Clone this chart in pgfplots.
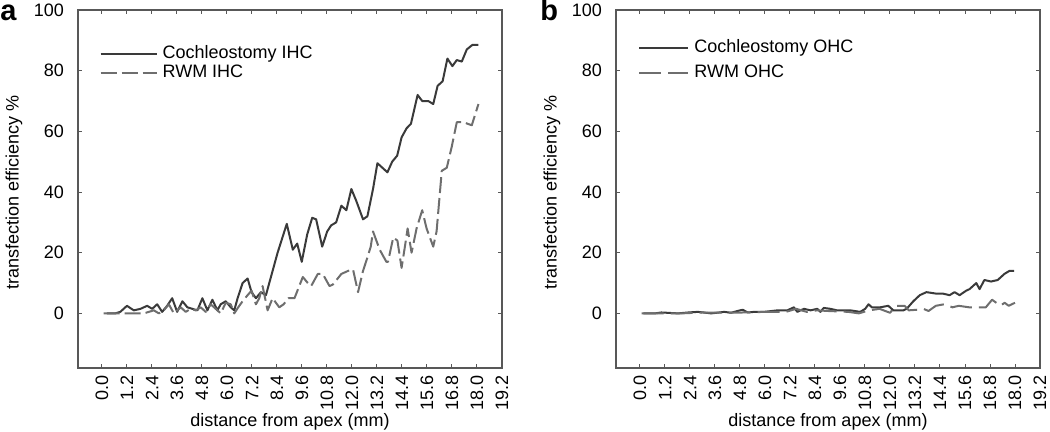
\documentclass[border=0pt]{standalone}
\usepackage{fontspec}
\setmainfont{Liberation Sans}
\usepackage{pgfplots}
\pgfplotsset{compat=1.18}
\definecolor{solidc}{HTML}{3A3A3A}
\definecolor{dashc}{HTML}{6E6E6E}
\definecolor{framec}{HTML}{585858}
\pgfplotsset{panel/.style={
  scale only axis, width=212pt, height=179pt,
  xmin=-1.15, xmax=19.2, ymin=-18, ymax=100,
  xtick={0,1.2,2.4,3.6,4.8,6.0,7.2,8.4,9.6,10.8,12.0,13.2,14.4,15.6,16.8,18.0,19.2},
  ytick={0,20,40,60,80,100},
  axis line style={draw=framec, line width=0.8pt},
  tick style={draw=framec, line width=0.5pt},
  major tick length=2pt, tick align=inside,
  /pgf/number format/assume math mode=true,
  xticklabel style={rotate=90, anchor=east, font=\fontsize{9}{9}\selectfont,
     /pgf/number format/.cd, fixed, fixed zerofill, precision=1},
  yticklabel style={xshift=-3.5pt, font=\fontsize{9}{9}\selectfont},
  yticklabel={\pgfmathprintnumber[fixed,precision=0]{\tick}},
  xlabel={distance from apex (mm)}, ylabel={transfection efficiency \%},
  every axis x label/.style={at={(axis description cs:0.5,-0.15)}, anchor=center, font=\fontsize{9}{9}\selectfont},
  every axis y label/.style={at={(axis description cs:-0.151,0.49)}, rotate=90, anchor=center, font=\fontsize{9}{9}\selectfont},
  clip=false,
  legend cell align=left,
}}
\begin{document}
\begin{tikzpicture}
\useasboundingbox (0pt,-32pt) rectangle (525pt,184pt);
\node[anchor=base west, font=\bfseries\fontsize{14.5}{14.5}\selectfont, inner sep=0pt] at (0pt,173.7pt) {a};
\node[anchor=base west, font=\bfseries\fontsize{14.5}{14.5}\selectfont, inner sep=0pt] at (270pt,173.7pt) {b};
\begin{axis}[panel, at={(39pt,0pt)}, anchor=south west,
  legend style={draw=none, fill=none, at={(axis description cs:0.05,1)}, anchor=north west, yshift=-17pt,
     inner sep=0pt, row sep=0pt, column sep=2pt, font=\fontsize{9}{9}\selectfont,
     nodes={inner sep=0.5pt, text height=6.5pt, text depth=2pt}},
  legend image code/.code={\draw[#1] (0pt,0pt) -- (28pt,0pt);}]
\addplot[solidc, line width=1pt, line join=round] coordinates {
(0.24,0) (0.64,0) (0.88,0.5) (1.20,2.5) (1.53,1) (1.85,1.5) (2.17,2.5) (2.41,1.5) (2.65,3) (2.89,0.5)
(3.13,2.5) (3.37,5) (3.61,0.5) (3.86,4) (4.10,2) (4.34,1.5) (4.58,1) (4.82,5) (5.06,1) (5.30,4.5)
(5.54,1) (5.70,3) (5.94,4) (6.18,2) (6.35,1) (6.51,5) (6.75,10) (6.99,11.5) (7.18,7) (7.39,5)
(7.63,7) (7.87,6) (8.11,12) (8.43,20) (8.87,29.5) (9.16,21) (9.37,23) (9.59,17) (9.85,26) (10.09,31.5)
(10.28,31) (10.57,22) (10.81,27) (11.00,29) (11.24,30) (11.49,35.5) (11.73,34) (11.97,41) (12.21,37) (12.53,31)
(12.74,32) (13.01,41) (13.22,49.5) (13.46,48) (13.70,46.5) (13.93,50) (14.17,52) (14.38,58) (14.62,61) (14.83,62.5)
(15.15,72) (15.37,70) (15.66,70) (15.90,69) (16.11,75) (16.35,76.5) (16.58,84) (16.82,81.5) (17.03,83.5) (17.27,83)
(17.51,87) (17.78,88.5) (18.07,88.5)
};
\addlegendentry{Cochleostomy IHC}
\addplot[dashc, line width=1pt, dash pattern=on 8pt off 2.5pt, line join=round] coordinates {
(0.08,0) (0.72,0) (1.20,0) (2.01,0) (2.49,1) (2.73,0) (2.97,1) (3.21,3) (3.45,0) (3.78,2)
(4.02,0.5) (4.26,1.5) (4.50,1) (4.74,2) (4.98,0.5) (5.22,3) (5.46,1.5) (5.70,0) (5.94,3.5) (6.18,3)
(6.35,0) (6.54,2) (6.75,4) (6.99,6) (7.18,7.5) (7.39,3) (7.55,5) (7.71,9) (7.95,1) (8.19,5)
(8.51,2) (8.72,3) (8.95,5) (9.24,5) (9.64,12) (9.88,10) (10.04,9) (10.36,13) (10.60,13) (10.92,9)
(11.08,9.5) (11.49,13) (11.81,14) (12.05,14.5) (12.29,7) (12.53,14) (12.72,18) (12.90,22) (13.01,27) (13.33,21)
(13.65,17) (13.73,17) (13.98,25) (14.18,24) (14.38,15) (14.54,22) (14.67,28) (14.86,20) (15.10,28) (15.37,34)
(15.58,28) (15.90,22) (16.06,27) (16.31,47) (16.55,48) (16.79,55) (17.03,63) (17.35,63) (17.75,62) (18.07,69)
};
\addlegendentry{RWM IHC}
\end{axis}
\begin{axis}[panel, at={(308pt,0pt)}, anchor=south west,
  legend style={draw=none, fill=none, at={(axis description cs:0.052,1)}, anchor=north west, yshift=-14pt,
     inner sep=0pt, row sep=3pt, column sep=2pt, font=\fontsize{9}{9}\selectfont,
     nodes={inner sep=0.5pt, text height=6.5pt, text depth=2pt}},
  legend image code/.code={\draw[#1] (0pt,0pt) -- (24.5pt,0pt);}]
\addplot[solidc, line width=1pt, line join=round] coordinates {
(0.16,0) (0.72,0) (1.03,0.3) (1.83,0) (2.31,0.3) (2.78,0.5) (3.42,0) (4.05,0.5) (4.37,0.2) (4.69,0.8)
(4.93,1.2) (5.17,0.3) (5.48,0.5) (5.96,0.5) (6.60,1) (7.07,1) (7.39,2) (7.55,0.5) (7.87,1.5) (8.19,1)
(8.51,1.5) (8.66,0.5) (8.82,1.8) (9.14,1.5) (9.46,1) (10.10,1) (10.57,0.5) (10.81,1.5) (10.97,3) (11.13,2)
(11.53,2) (11.92,2.5) (12.16,1) (12.64,1) (12.80,1.5) (13.12,4) (13.43,6) (13.75,7) (14.23,6.5) (14.55,6.5)
(14.86,6) (15.10,7) (15.34,6) (15.66,7.5) (15.82,8) (16.14,10) (16.30,8) (16.53,11) (16.85,10.5) (17.17,11)
(17.49,13) (17.73,14) (17.96,14)
};
\addlegendentry{Cochleostomy OHC}
\addplot[dashc, line width=1pt, dash pattern=on 11pt off 3.5pt, line join=round] coordinates {
(0.08,0) (1.0,0) (2.0,0) (3.0,0.3) (4.0,0.2) (5.0,0.3) (6.0,0.5) (7.0,0.5) (7.5,1.5) (8.0,0.5)
(8.5,1) (9.0,0.8) (10.0,0.5) (10.5,0) (11.0,1) (11.5,1.5) (12.0,0.2) (12.3,2.5) (12.7,2.5) (12.9,1.0)
(13.3,1.2) (13.6,1.5) (13.85,0.8) (14.2,2.5) (14.6,3) (15.0,2) (15.3,2.5) (15.8,2) (16.1,2) (16.6,2)
(16.9,4.5) (17.3,2.5) (17.5,3.5) (17.7,2.5) (18.0,3.5)
};
\addlegendentry{RWM OHC}
\end{axis}
\end{tikzpicture}
\end{document}
